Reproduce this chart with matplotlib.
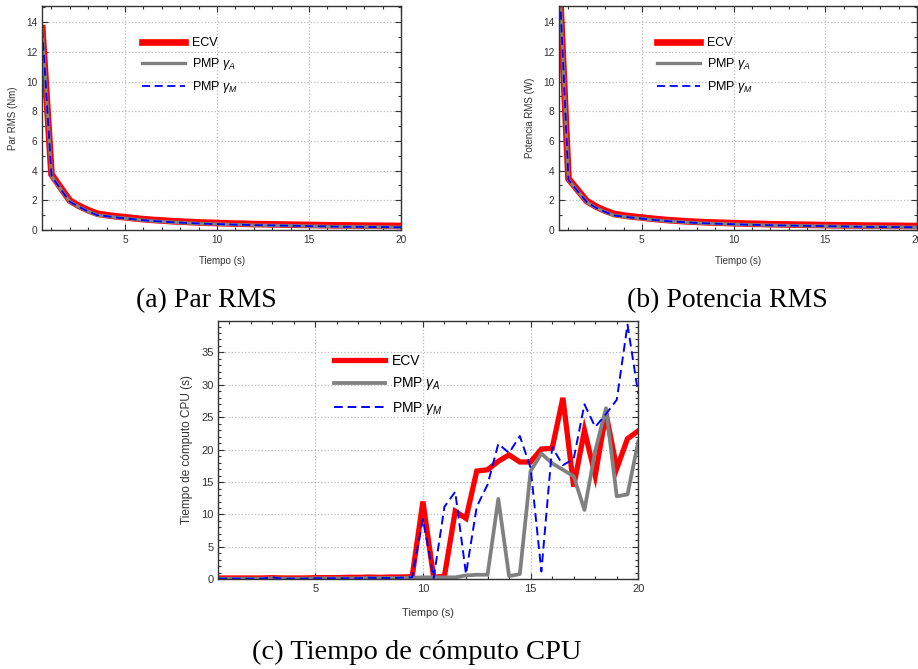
import matplotlib
matplotlib.use("Agg")
import matplotlib.pyplot as plt
from matplotlib.ticker import MultipleLocator

plt.rcParams['font.family'] = ['Liberation Sans', 'DejaVu Sans']
plt.rcParams['mathtext.fontset'] = 'custom'
plt.rcParams['mathtext.it'] = 'Liberation Sans:italic'
plt.rcParams['mathtext.rm'] = 'Liberation Sans'

# tiempo de simulacion (s)
t = [0.5, 1.0, 1.5, 2.0, 2.5, 3.0, 3.5, 4.0, 4.5, 5.0,
     5.5, 6.0, 6.5, 7.0, 7.5, 8.0, 8.5, 9.0, 9.5, 10.0,
     10.5, 11.0, 11.5, 12.0, 12.5, 13.0, 13.5, 14.0, 14.5, 15.0,
     15.5, 16.0, 16.5, 17.0, 17.5, 18.0, 18.5, 19.0, 19.5, 20.0]

# (a) par RMS (Nm)
par_ecv = [13.6, 3.75, 2.85, 1.98, 1.62, 1.33, 1.1, 1.0, 0.92, 0.86,
           0.79, 0.73, 0.68, 0.64, 0.6, 0.57, 0.54, 0.51, 0.49, 0.47,
           0.45, 0.43, 0.42, 0.4, 0.39, 0.38, 0.37, 0.36, 0.35, 0.34,
           0.33, 0.32, 0.31, 0.31, 0.3, 0.29, 0.29, 0.28, 0.28, 0.27]
par_pmp_a = [13.5, 3.65, 2.75, 1.9, 1.55, 1.25, 1.0, 0.93, 0.85, 0.79,
             0.72, 0.66, 0.61, 0.57, 0.53, 0.5, 0.47, 0.44, 0.42, 0.4,
             0.38, 0.36, 0.35, 0.33, 0.32, 0.31, 0.3, 0.29, 0.28, 0.26,
             0.25, 0.24, 0.23, 0.22, 0.22, 0.21, 0.2, 0.2, 0.19, 0.18]
par_pmp_m = [13.5, 3.65, 2.75, 1.9, 1.55, 1.25, 1.0, 0.93, 0.85, 0.79,
             0.72, 0.66, 0.61, 0.57, 0.53, 0.5, 0.47, 0.44, 0.42, 0.4,
             0.38, 0.36, 0.35, 0.33, 0.32, 0.31, 0.3, 0.29, 0.28, 0.26,
             0.25, 0.24, 0.23, 0.22, 0.22, 0.21, 0.2, 0.2, 0.19, 0.18]

# (b) potencia RMS (W)
pot_ecv = [17.0, 3.45, 2.7, 1.95, 1.58, 1.3, 1.08, 0.98, 0.9, 0.84,
           0.77, 0.71, 0.66, 0.62, 0.58, 0.55, 0.52, 0.5, 0.48, 0.46,
           0.44, 0.42, 0.41, 0.39, 0.38, 0.37, 0.36, 0.35, 0.34, 0.33,
           0.32, 0.31, 0.31, 0.3, 0.29, 0.29, 0.28, 0.28, 0.27, 0.27]
pot_pmp_a = [16.9, 3.38, 2.62, 1.88, 1.5, 1.22, 0.98, 0.9, 0.83, 0.77,
             0.7, 0.64, 0.59, 0.55, 0.51, 0.48, 0.45, 0.43, 0.41, 0.39,
             0.37, 0.35, 0.34, 0.32, 0.31, 0.3, 0.29, 0.28, 0.27, 0.26,
             0.25, 0.24, 0.23, 0.22, 0.21, 0.21, 0.2, 0.2, 0.19, 0.18]
pot_pmp_m = [16.9, 3.38, 2.62, 1.88, 1.5, 1.22, 0.98, 0.9, 0.83, 0.77,
             0.7, 0.64, 0.59, 0.55, 0.51, 0.48, 0.45, 0.43, 0.41, 0.39,
             0.37, 0.35, 0.34, 0.32, 0.31, 0.3, 0.29, 0.28, 0.27, 0.26,
             0.25, 0.24, 0.23, 0.22, 0.21, 0.21, 0.2, 0.2, 0.19, 0.18]

# (c) tiempo de computo CPU (s)
cpu_ecv = [0.2, 0.2, 0.2, 0.2, 0.2, 0.25, 0.2, 0.2, 0.2, 0.25,
           0.25, 0.25, 0.3, 0.3, 0.35, 0.3, 0.35, 0.35, 0.4, 12.0,
           0.3, 0.5, 10.5, 9.4, 16.7, 16.9, 18.2, 19.2, 18.1, 18.1,
           20.1, 20.2, 28.0, 14.3, 23.0, 16.0, 25.6, 17.1, 21.7, 22.9]
cpu_pmp_a = [0.1, 0.1, 0.1, 0.1, 0.1, 0.15, 0.1, 0.1, 0.1, 0.15,
             0.15, 0.15, 0.15, 0.15, 0.2, 0.2, 0.2, 0.2, 0.25, 0.3,
             0.3, 0.3, 0.3, 0.6, 0.7, 0.7, 12.4, 0.5, 0.8, 16.7,
             19.4, 17.9, 16.9, 15.9, 10.7, 19.8, 26.4, 12.8, 13.1, 21.3]
cpu_pmp_m = [0.1, 0.1, 0.1, 0.1, 0.1, 0.3, 0.1, 0.1, 0.1, 0.15,
             0.15, 0.15, 0.15, 0.15, 0.25, 0.2, 0.2, 0.25, 0.3, 9.3,
             0.2, 11.2, 13.5, 0.8, 11.2, 14.6, 20.9, 19.5, 22.1, 17.2,
             1.2, 20.4, 17.6, 18.6, 27.0, 23.5, 25.5, 27.7, 39.3, 28.6]

labels = ['ECV', r'PMP $\gamma_A$', r'PMP $\gamma_M$']

W, H = 918, 669
fig = plt.figure(figsize=(W / 100, H / 100), dpi=100)


def caja(l, t_, r, b):
    return [l / W, 1 - b / H, (r - l) / W, (b - t_) / H]


def formato(ax, ymax, ymaj, ymin, fs):
    ax.set_xlim(0.5, 20)
    ax.set_ylim(0, ymax)
    ax.xaxis.set_major_locator(MultipleLocator(5))
    ax.xaxis.set_minor_locator(MultipleLocator(1))
    ax.yaxis.set_major_locator(MultipleLocator(ymaj))
    ax.yaxis.set_minor_locator(MultipleLocator(ymin))
    ax.tick_params(which='both', direction='in', top=True, right=True,
                   color='#333333', width=0.8)
    ax.tick_params(which='major', length=4, labelsize=fs, labelcolor='#333333')
    ax.tick_params(which='minor', length=2.2)
    ax.grid(True, which='major', linestyle=':', color='#bbbbbb', linewidth=0.9)
    for s in ax.spines.values():
        s.set_color('#333333')
        s.set_linewidth(1.0)
    ax.set_axisbelow(True)


def curvas(ax, y1, y2, y3, lw1, lw2, lw3):
    ax.plot(t, y1, color='red', lw=lw1, label=labels[0], solid_joinstyle='miter')
    ax.plot(t, y2, color='#808080', lw=lw2, label=labels[1])
    ax.plot(t, y3, color='blue', lw=lw3, ls=(0, (4.5, 2.5)), label=labels[2])


# (a)
ax1 = fig.add_axes(caja(42.3, 6, 401, 230))
curvas(ax1, par_ecv, par_pmp_a, par_pmp_m, 4.8, 2.4, 1.3)
formato(ax1, 15.1, 2, 1, 7.3)
ax1.set_xlabel('Tiempo (s)', fontsize=7, color='#333333', labelpad=8)
ax1.set_ylabel('Par RMS (Nm)', fontsize=7, color='#333333', labelpad=6)
ax1.legend(loc='upper left', bbox_to_anchor=(0.277, 0.86), frameon=False,
           fontsize=9, handlelength=3.5, handletextpad=0.5, labelspacing=0.55,
           borderpad=0, borderaxespad=0)

# (b)
ax2 = fig.add_axes(caja(559.3, 6, 917, 230))
curvas(ax2, pot_ecv, pot_pmp_a, pot_pmp_m, 4.8, 2.4, 1.3)
formato(ax2, 15.1, 2, 1, 7.3)
ax2.set_xlabel('Tiempo (s)', fontsize=7, color='#333333', labelpad=8)
ax2.set_ylabel('Potencia RMS (W)', fontsize=7, color='#333333', labelpad=6)
ax2.legend(loc='upper left', bbox_to_anchor=(0.272, 0.86), frameon=False,
           fontsize=9, handlelength=3.5, handletextpad=0.5, labelspacing=0.55,
           borderpad=0, borderaxespad=0)

# (c)
ax3 = fig.add_axes(caja(218.3, 320.7, 638.3, 579.3))
curvas(ax3, cpu_ecv, cpu_pmp_a, cpu_pmp_m, 3.8, 2.7, 1.4)
formato(ax3, 39.9, 5, 1, 8)
ax3.set_xlabel('Tiempo (s)', fontsize=7.8, color='#333333', labelpad=10)
ax3.set_ylabel('Tiempo de cómputo CPU (s)', fontsize=8.5, color='#333333', labelpad=6)
ax3.legend(loc='upper left', bbox_to_anchor=(0.2755, 0.872), frameon=False,
           fontsize=10, handlelength=3.7, handletextpad=0.5, labelspacing=0.55,
           borderpad=0, borderaxespad=0)

serif = 'Liberation Serif'
fig.text(206.5 / W, 1 - 307 / H, '(a) Par RMS', ha='center', va='baseline',
         fontsize=20, family=serif)
fig.text(727.5 / W, 1 - 307 / H, '(b) Potencia RMS', ha='center', va='baseline',
         fontsize=20, family=serif)
fig.text(416.5 / W, 1 - 659 / H, '(c) Tiempo de cómputo CPU', ha='center',
         va='baseline', fontsize=20.5, family=serif)

fig.savefig('out.png', dpi=100)
